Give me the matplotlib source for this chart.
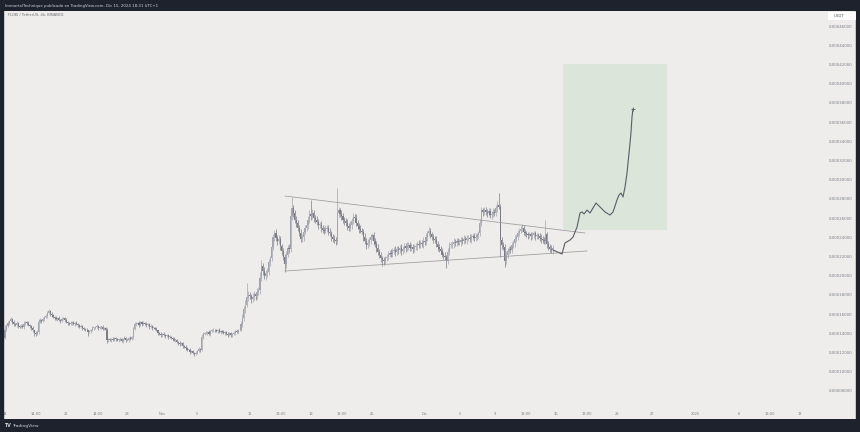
import matplotlib
matplotlib.use('Agg')
import matplotlib.pyplot as plt
import matplotlib.dates as mdates
from matplotlib.patches import Rectangle
from datetime import datetime, timedelta
import numpy as np

# ---------------- data (prices in micro-USDT, 1e-6) ----------------
first_open = 135
closes_by_day = [
    [144,148,151,153,155,152], [150,149,151,148,147,148], [147,150,152,151,149,148],
    [146,143,140,139,141,152], [154,153,155,157,158,161], [163,160,159,157,156,155],
    [156,154,153,155,156,154], [152,151,150,151,152,150], [151,150,149,147,148,146],
    [145,144,143,141,142,143], [146,146,147,148,146,147], [147,145,146,144,133,134],
    [133,134,133,135,134,133], [133,134,132,134,135,133], [133,135,134,136,145,150],
    [150,151,149,152,150,151], [150,149,150,147,148,146], [146,145,143,140,139,138],
    [139,138,137,138,136,136], [135,134,133,133,131,130], [129,130,127,126,125,123],
    [123,121,122,120,118,120], [122,124,123,136,139,140], [140,141,139,142,143,144],
    [143,142,144,141,142,141], [140,141,139,138,140,138], [139,140,142,141,143,144],
    [150,156,165,170,178,180], [179,176,178,181,179,183], [185,198,210,205,200,203],
    [204,214,218,230,240,245], [239,236,238,231,226,220], [212,222,229,228,262,270],
    [265,258,255,250,245,238], [240,246,250,253,258,264], [262,265,260,258,256,253],
    [253,250,248,247,249,250], [246,244,240,238,237,236], [265,268,264,262,258,257],
    [255,252,250,253,257,261], [260,255,252,249,247,246], [240,236,232,234,237,240],
    [242,236,233,229,225,222], [218,216,215,218,220,222], [224,223,226,227,225,228],
    [227,229,226,228,231,229], [231,232,229,230,228,230], [231,233,232,234,233,236],
    [235,240,244,247,243,240], [238,237,233,230,228,226], [222,221,219,215,225,232],
    [232,233,235,234,236,235], [235,237,236,238,237,239], [239,238,240,241,239,240],
    [242,244,255,268,266,268], [266,265,267,263,264,266], [265,270,274,272,237,232],
    [230,215,222,226,228,227], [232,234,238,240,244,247], [249,250,246,244,243,242],
    [243,241,242,244,241,242], [241,239,238,237,236,243], [233,230,228,227,229],
]
upper_wick_by_day = [
    [5,2,2,1,2,1], [2,1,2,1,1,2], [2,3,1,1,2,1], [1,2,1,2,2,3], [2,1,2,1,2,2],
    [2,1,2,1,1,2], [1,2,1,2,1,1], [2,1,1,2,1,1], [1,2,1,1,2,1], [1,1,2,1,1,2],
    [2,1,1,2,1,1], [1,2,1,1,2,1], [1,1,2,1,1,1], [1,2,1,1,2,1], [1,1,2,1,2,2],
    [2,1,2,1,1,2], [1,2,1,1,2,1], [1,1,2,1,1,2], [1,2,1,1,1,2], [1,1,2,1,1,1],
    [2,1,1,1,2,1], [1,2,1,1,1,2], [1,2,1,3,2,1], [2,1,2,1,2,2], [1,2,1,2,1,1],
    [2,1,1,2,1,1], [1,2,1,2,2,3], [3,4,3,5,14,4], [3,2,4,3,2,4], [3,6,6,3,4,3],
    [4,3,3,4,3,3], [4,3,4,3,2,3], [3,4,3,4,6,12], [4,3,4,3,3,4], [3,4,3,3,4,4],
    [15,4,3,3,4,3], [3,4,3,3,4,3], [3,4,3,3,4,3], [26,4,3,4,3,3], [3,4,3,4,3,4],
    [3,4,3,3,4,3], [3,4,3,4,3,3], [3,4,3,3,4,3], [3,3,4,3,3,4], [3,4,3,3,4,3],
    [3,3,4,3,3,3], [4,3,3,4,3,3], [3,3,4,3,3,4], [3,4,3,4,3,3], [3,3,4,3,3,3],
    [3,3,4,3,4,3], [3,3,4,3,3,3], [3,3,3,4,3,3], [3,4,3,3,3,4], [3,3,4,4,3,4],
    [4,3,4,3,3,4], [3,4,4,12,3,3], [3,3,4,3,3,3], [3,3,4,3,4,3], [3,4,3,3,3,3],
    [3,3,4,3,3,3], [3,3,4,3,3,15], [3,3,3,4,3],
]
lower_wick_by_day = [
    [1,2,1,2,1,2], [2,1,2,2,1,1], [1,2,1,2,1,2], [2,2,3,2,1,2], [1,2,1,2,1,2],
    [1,2,2,1,2,1], [2,1,2,1,1,2], [1,2,1,1,2,1], [2,1,2,1,1,2], [1,2,1,4,1,2],
    [1,2,1,1,2,1], [2,1,2,1,3,2], [1,2,1,1,2,1], [2,1,1,2,1,2], [1,2,1,1,2,1],
    [2,1,2,1,2,1], [1,2,1,2,1,2], [1,2,1,2,1,2], [2,1,2,1,2,1], [1,2,1,2,1,2],
    [2,1,2,1,2,1], [1,2,1,2,2,1], [2,1,2,1,2,1], [1,2,1,2,1,2], [2,1,2,1,2,1],
    [1,2,1,2,1,2], [2,1,2,1,2,1], [2,3,3,4,3,4], [3,4,3,3,4,3], [3,4,3,4,3,4],
    [4,3,4,3,3,4], [3,4,3,4,4,4], [8,4,3,4,3,4], [4,3,4,3,4,3], [3,4,3,3,4,3],
    [4,3,4,3,3,4], [3,4,3,4,3,3], [4,3,4,3,3,4], [3,4,3,4,3,4], [3,4,3,3,4,3],
    [4,3,3,4,3,3], [4,3,4,3,3,4], [3,4,3,4,3,4], [4,6,4,3,3,4], [3,4,3,3,4,3],
    [4,3,4,3,3,4], [3,4,3,3,4,3], [3,4,3,3,3,4], [3,3,4,3,4,3], [4,3,3,4,3,3],
    [3,4,3,7,3,3], [3,3,4,3,3,3], [3,4,3,3,3,4], [3,3,4,3,3,3], [3,4,3,3,4,3],
    [3,4,3,3,4,3], [3,3,4,3,17,4], [3,6,3,4,3,3], [3,3,4,3,3,3], [3,3,4,3,3,4],
    [3,4,3,3,4,3], [3,3,4,3,3,3], [4,3,3,3,4],
]

# trend lines: (days after 14 Oct, price)
upper_line = [(32.04, 283.0), (66.36, 244.5)]
lower_line = [(32.04, 204.9), (66.59, 225.8)]
# projected path
path_days = [62.70, 63.73, 64.07, 64.65, 64.99, 65.45, 65.79, 66.02, 66.25, 66.59, 66.93,
             67.28, 67.62, 68.08, 68.65, 69.22, 69.57, 70.02, 70.25, 70.48, 70.71, 70.94,
             71.17, 71.40, 71.62, 71.74, 71.85]
path_price = [226.8, 222.6, 234.1, 237.2, 240.3, 250.7, 265.3, 266.4, 264.3, 268.4, 265.3,
              270.5, 275.7, 271.6, 266.4, 263.2, 266.4, 278.8, 284.1, 286.1, 282.0, 292.4,
              307.0, 327.8, 348.6, 365.3, 373.6]
# target box (days, price)
box_days = (63.84, 75.74)
box_price = (247.6, 420.4)

price_ticks = list(range(80, 461, 20))
date_ticks = [(datetime(2024,10,14), '14'), (datetime(2024,10,17,14), '14:00'),
              (datetime(2024,10,21), '21'), (datetime(2024,10,24,14), '14:00'),
              (datetime(2024,10,28), '28'), (datetime(2024,11,1), 'Nov'),
              (datetime(2024,11,5), '5'), (datetime(2024,11,11), '11'),
              (datetime(2024,11,14,13), '13:00'), (datetime(2024,11,18), '18'),
              (datetime(2024,11,21,13), '13:00'), (datetime(2024,11,25), '25'),
              (datetime(2024,12,1), 'Dic'), (datetime(2024,12,5), '5'),
              (datetime(2024,12,9), '9'), (datetime(2024,12,12,13), '13:00'),
              (datetime(2024,12,16), '16'), (datetime(2024,12,19,13), '13:00'),
              (datetime(2024,12,23), '23'), (datetime(2024,12,27), '27'),
              (datetime(2025,1,1), '2025'), (datetime(2025,1,6), '6'),
              (datetime(2025,1,9,13), '13:00'), (datetime(2025,1,13), '13')]

# ---------------- build candles ----------------
closes = [c for d in closes_by_day for c in d]
ups = [u for d in upper_wick_by_day for u in d]
dns = [u for d in lower_wick_by_day for u in d]
n = min(len(closes), len(ups), len(dns))
closes = np.array(closes[:n], float)
opens = np.concatenate([[first_open], closes[:-1]])
highs = np.maximum(opens, closes) + np.array(ups[:n])
lows = np.minimum(opens, closes) - np.array(dns[:n])

t0 = datetime(2024, 10, 14)
def dn(days):
    return mdates.date2num(t0 + timedelta(days=days))
xs = np.array([dn(i / 6.0) for i in range(n)])

BG = '#eeedeb'
DARK = '#1e222d'
UPC = '#a2a5ad'
DNC = '#7a7d86'

W, H = 860, 432
fig = plt.figure(figsize=(W/100, H/100), dpi=100, facecolor=DARK)
ax = fig.add_axes([3/W, 13/H, 853/W, 408/H])
ax.set_facecolor(BG)
for s in ax.spines.values():
    s.set_visible(False)

# target box
ax.add_patch(Rectangle((dn(box_days[0]), box_price[0]), dn(box_days[1]) - dn(box_days[0]),
                       box_price[1] - box_price[0], facecolor='#dbe5da', edgecolor='none', zorder=0.5))

colors = [UPC if c >= o else DNC for o, c in zip(opens, closes)]
ax.vlines(xs, lows, highs, colors=colors, lw=0.5, zorder=2)
body = np.maximum(np.abs(closes - opens), 0.8)
ax.bar(xs, body, bottom=np.minimum(opens, closes), width=0.135, color=colors,
       edgecolor='none', zorder=3)

# trend lines
ax.plot([dn(upper_line[0][0]), dn(upper_line[1][0])], [upper_line[0][1], upper_line[1][1]],
        color='#9b9b9b', lw=0.55, zorder=4)
ax.plot([dn(lower_line[0][0]), dn(lower_line[1][0])], [lower_line[0][1], lower_line[1][1]],
        color='#9b9b9b', lw=0.55, zorder=4)
# projected path
ax.plot([dn(d) for d in path_days], path_price, color='#5a5d66', lw=0.8,
        solid_joinstyle='round', solid_capstyle='round', zorder=5)
ax.plot([dn(path_days[-1])], [path_price[-1]], marker='+', ms=2.5, mew=0.6,
        color='#5a5d66', zorder=5)

# axes limits (pixel-calibrated)
ax.set_xlim(dn((3 - 5) / 8.74), dn((856 - 5) / 8.74))
ax.set_ylim(460 - (419 - 26) * 1.0411, 460 + 15 * 1.0411)

ax.set_yticks(price_ticks)
ax.set_yticklabels([f"{v*1e-6:.8f}".replace('.', ',') for v in price_ticks])
ax.tick_params(axis='y', length=0, labelright=True, labelleft=False, pad=-19.4,
               labelsize=2.8, labelcolor='#7c7f88')
ax.set_xticks([mdates.date2num(d) for d, _ in date_ticks])
ax.set_xticklabels([l for _, l in date_ticks])
ax.tick_params(axis='x', length=0, pad=-4.8, labelsize=2.6, labelcolor='#7c7f88')

# frame overlays
fig.add_artist(Rectangle((0, 0), 3/W, 1, transform=fig.transFigure, color=DARK, zorder=10))
fig.add_artist(Rectangle((856/W, 0), 4/W, 1, transform=fig.transFigure, color=DARK, zorder=10))

# texts
fig.text(5/W, 1 - 5.5/H, "ImmortalTechnique publicado en TradingView.com, Dic 15, 2024 18:31 UTC+1",
         color='#d1d4dc', fontsize=2.75, va='center', ha='left')
fig.text(8/W, 1 - 14.5/H, "FLOKI / TetherUS, 4h, BINANCE", color='#6a6d78', fontsize=2.6,
         va='center', ha='left')
fig.add_artist(Rectangle((828/W, 1 - 20/H), 28/W, 8/H, transform=fig.transFigure,
                         facecolor='#ffffff', edgecolor='none', zorder=11))
fig.text(834/W, 1 - 16/H, "USDT", color='#50535e', fontsize=2.8, va='center', ha='left', zorder=12)
fig.text(4/W, 6.5/H, "TV", color='#d1d4dc', fontsize=3.4, weight='bold', va='center', ha='left')
fig.text(12/W, 6.5/H, "TradingView", color='#d1d4dc', fontsize=3.2, va='center', ha='left')

fig.savefig('out.png', dpi=100, facecolor=DARK)
